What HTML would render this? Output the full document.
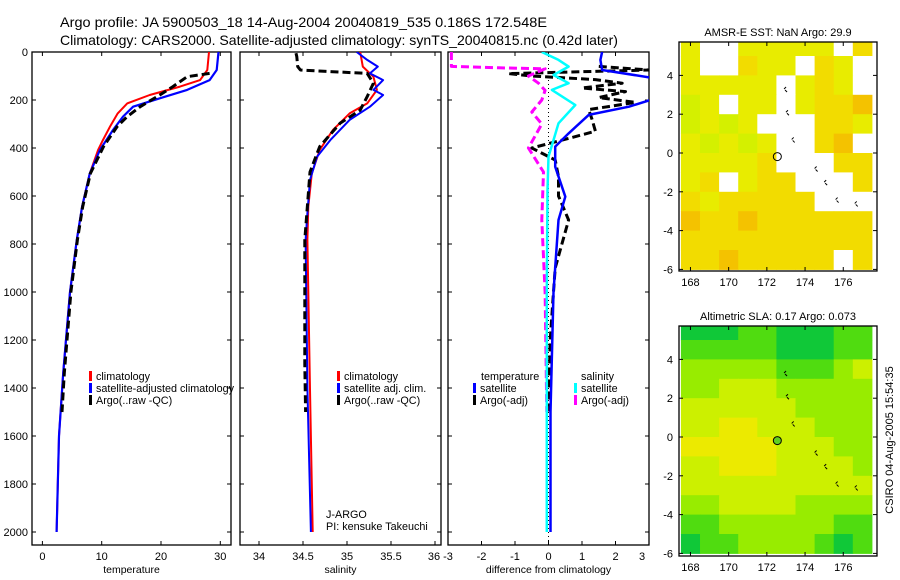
<!DOCTYPE html>
<html><head><meta charset="utf-8">
<style>
html,body{margin:0;padding:0;background:#fff;}
svg{display:block;font-family:"Liberation Sans",Arial,sans-serif;}
</style></head>
<body>
<svg id="c" width="900" height="580" viewBox="0 0 900 580" xmlns="http://www.w3.org/2000/svg">
<text x="60" y="27" font-size="14" textLength="487" lengthAdjust="spacingAndGlyphs">Argo profile: JA 5900503_18 14-Aug-2004 20040819_535 0.186S 172.548E</text>
<text x="60" y="45" font-size="14" textLength="558" lengthAdjust="spacingAndGlyphs">Climatology: CARS2000. Satellite-adjusted climatology: synTS_20040815.nc (0.42d later)</text>
<g id="g"></g>
</svg>
<script>
// ---- data ----
const tempClimDepth=[0,75,117,144,179,214,256,311,367,408,506,644,783,1000,1338,1600,2000];
const tempClim=[28.1,27.8,26.6,23.2,18.1,14.3,12.7,11.4,10.2,9.4,8.0,6.7,5.8,4.65,3.5,2.8,2.4];
const tempSatDepth=[0,75,117,158,193,228,269,325,408,506,644,783,1000,1338,1600,2000];
const tempSat=[29.7,29.4,28.2,24.4,19.8,15.3,13.6,11.9,9.7,8.0,6.7,5.8,4.65,3.5,2.8,2.4];
const tempArgoDepth=[89,103,144,179,228,269,311,394,506,644,783,1000,1338,1500];
const tempArgo=[28.2,24.4,22.0,19.8,16.5,14.3,12.6,10.3,8.1,6.8,5.9,4.8,3.7,3.3];
const salClimDepth=[0,61,103,158,214,256,325,408,506,644,783,1408,2000];
const salClim=[35.15,35.18,35.3,35.34,35.23,35.03,34.84,34.69,34.6,34.56,34.55,34.58,34.61];
const salSatDepth=[0,33,61,89,117,158,179,228,283,367,436,533,672,783,1400,2000];
const salSat=[35.11,35.23,35.35,35.26,35.41,35.3,35.41,35.26,35.03,34.81,34.66,34.58,34.55,34.53,34.55,34.59];
const salArgoDepth=[5,19,61,75,82,89,130,186,242,297,394,500,783,1300,1500];
const salArgo=[34.42,34.43,34.44,34.47,34.84,35.23,35.3,35.23,35.15,34.92,34.69,34.58,34.52,34.52,34.53];
const dSalSatDepth=[0,33,61,96,130,158,221,297,367,436,575,1000,1500,2000];
const dSalSat=[-0.2,0.3,0.6,0.15,0.6,0.1,0.8,0.3,0.15,0.0,-0.03,-0.05,-0.05,-0.05];
const dTempSatDepth=[0,33,75,110,193,228,262,339,394,478,603,700,1000,1500,2000];
const dTempSat=[1.6,1.55,1.6,3.2,3.2,2.4,1.2,0.6,0.2,0.2,0.5,0.3,0.15,0.06,0.06];
const dTempArgoDepth=[60,75,90,100,115,130,150,165,190,210,240,280,330,360,400,450,520,600,700,800,900,1000,1200,1500];
const dTempArgo=[1.5,3.0,-1.2,-0.5,1.4,2.2,1.0,2.3,1.5,2.6,1.2,1.3,1.4,0.6,-0.5,0.2,0.3,0.3,0.6,0.4,0.2,0.15,0.05,0.0];
const dSalArgoDepth=[0,60,66,70,100,130,160,200,250,300,400,500,700,1000,1500];
const dSalArgo=[-2.9,-2.9,-1.5,-0.1,-0.6,-0.3,-0.1,-0.2,-0.5,-0.2,-0.6,-0.15,-0.2,-0.1,-0.05];
const depthTicks=[0,200,400,600,800,1000,1200,1400,1600,1800,2000];
const tempTicks=[0,10,20,30];
const salTicks=[34,34.5,35,35.5,36];
const diffTicks=[-3,-2,-1,0,1,2,3];
const mapLons=[168,169,170,171,172,173,174,175,176,177];
const mapLats=[5.5,4.5,3.5,2.5,1.5,0.5,-0.5,-1.5,-2.5,-3.5,-4.5,-5.5];
const sstGrid=[
[2,0,0,2,2,2,2,2,0,3],[2,0,0,3,2,2,0,3,2,0],[2,2,2,2,2,0,2,3,2,0],[1,2,0,2,2,0,2,3,3,4],
[1,2,1,2,0,0,0,3,3,2],[2,1,2,1,2,0,0,3,4,0],[2,2,2,2,3,0,0,0,3,3],[2,3,0,2,3,3,0,0,0,3],
[3,2,3,3,3,3,3,0,0,0],[4,3,3,4,3,3,3,3,3,3],[3,3,3,3,3,3,3,3,3,3],[3,3,4,3,3,3,3,3,0,3]];
const slaGrid=[
[1,1,1,2,2,1,1,1,2,2],[2,2,2,2,2,1,1,1,2,2],[3,3,3,3,3,2,2,2,3,4],[3,3,4,4,4,3,3,3,3,3],
[4,4,4,4,4,4,3,3,3,3],[4,4,5,5,4,4,4,3,3,3],[5,5,5,5,5,4,4,4,3,3],[4,4,5,5,5,4,4,4,4,3],
[4,4,4,4,4,4,4,4,4,4],[3,3,4,4,4,4,3,3,3,3],[2,2,3,3,3,3,3,3,2,2],[1,2,2,3,3,3,3,2,1,2]];
const mapLonTicks=[168,170,172,174,176];
const mapLatTicks=[4,2,0,-2,-4,-6];
const floatLon=172.548, floatLat=-0.186;

// ---- drawing ----
const NS="http://www.w3.org/2000/svg";
const G=document.getElementById('g');
function el(t,a,p){const e=document.createElementNS(NS,t);for(const k in a)e.setAttribute(k,a[k]);(p||G).appendChild(e);return e;}
const yD=d=>52+d*0.24;
const PB=545;
const panels=[
 {x0:32,x1:231,sx:v=>42.4+v*5.93,ticks:tempTicks,label:'temperature',name:'temperature-panel'},
 {x0:240,x1:441,sx:v=>259+(v-34)*88,ticks:salTicks,label:'salinity',name:'salinity-panel'},
 {x0:448,x1:649,sx:v=>548.5+v*33.5,ticks:diffTicks,label:'difference from climatology',name:'difference-panel'}];
const defs=el('defs',{});
panels.forEach((p,i)=>{
 const cp=el('clipPath',{id:'cp'+i},defs);el('rect',{x:p.x0,y:52,width:p.x1-p.x0,height:PB-52},cp);
 const r=el('rect',{x:p.x0,y:52,width:p.x1-p.x0,height:PB-52,fill:'none',stroke:'#000','stroke-width':1.3});
 
 
 depthTicks.forEach(d=>{
  el('line',{x1:p.x0,x2:p.x0+4,y1:yD(d),y2:yD(d),stroke:'#000'});
  el('line',{x1:p.x1-4,x2:p.x1,y1:yD(d),y2:yD(d),stroke:'#000'});
 });
 p.ticks.forEach((v,j)=>{
  const x=p.sx(v);
  if(x>=p.x0-1&&x<=p.x1+1){el('line',{x1:x,x2:x,y1:PB,y2:PB-4,stroke:'#000'});el('line',{x1:x,x2:x,y1:52,y2:56,stroke:'#000'});}
  let lx=Math.min(x,p.x1-7);
  const t=el('text',{x:lx,y:560,'font-size':11,'text-anchor':'middle'});t.textContent=v;
  
  
 });
 const xt=el('text',{x:(p.x0+p.x1)/2,y:573,'font-size':10.5,'text-anchor':'middle'});xt.textContent=p.label;
 
 
});
depthTicks.forEach(d=>{const t=el('text',{x:28,y:yD(d)+4,'font-size':11,'text-anchor':'end'});t.textContent=d;
 
 });
el('line',{x1:548.5,x2:548.5,y1:52,y2:PB,stroke:'#000','stroke-dasharray':'1 3'});
function line(pi,ds,vs,col,w,dash,name){
 const p=panels[pi];const pts=ds.map((d,i)=>p.sx(vs[i]).toFixed(1)+','+yD(d).toFixed(1)).join(' ');
 const a={points:pts,fill:'none',stroke:col,'stroke-width':w,'clip-path':'url(#cp'+pi+')','stroke-linejoin':'round'};
 if(dash)a['stroke-dasharray']=dash;
 const e=el('polyline',a);
 
 
}
line(0,tempClimDepth,tempClim,'#f00',2,null,'temperature-climatology-line');
line(0,tempSatDepth,tempSat,'#00f',2.2,null,'temperature-satellite-line');
line(0,tempArgoDepth,tempArgo,'#000',3,'8 4','temperature-argo-line');
line(1,salClimDepth,salClim,'#f00',2,null,'salinity-climatology-line');
line(1,salSatDepth,salSat,'#00f',2,null,'salinity-satellite-line');
line(1,salArgoDepth,salArgo,'#000',3,'8 4','salinity-argo-line');
line(2,dTempArgoDepth,dTempArgo,'#000',3,'8 4','temp-argo-diff-line');
line(2,dSalArgoDepth,dSalArgo,'#f0f',3,'8 4','sal-argo-diff-line');
line(2,dTempSatDepth,dTempSat,'#00f',2.5,null,'temp-satellite-diff-line');
line(2,dSalSatDepth,dSalSat,'#0ff',2.5,null,'sal-satellite-diff-line');
function leg(x,y,col,txt,name){
 if(col){const b=el('rect',{x:x,y:y-9,width:3,height:10,fill:col});}
 const t=el('text',{x:x+7,y:y,'font-size':10.8});t.textContent=txt;
 
 
}
leg(89,380,'#f00','climatology','legend-climatology');
leg(89,392,'#00f','satellite-adjusted climatology','legend-satellite-adjusted');
leg(89,404,'#000','Argo(..raw -QC)','legend-argo');
leg(337,380,'#f00','climatology','legend-sal-climatology');
leg(337,392,'#00f','satellite adj. clim.','legend-sal-satellite');
leg(337,404,'#000','Argo(..raw -QC)','legend-sal-argo');
leg(474,380,null,'temperature','legend-temperature-heading');
leg(473,392,'#00f','satellite','legend-temp-satellite');
leg(473,404,'#000','Argo(-adj)','legend-temp-argo');
leg(574,380,null,'salinity','legend-salinity-heading');
leg(574,392,'#0ff','satellite','legend-sal-satellite-diff');
leg(574,404,'#f0f','Argo(-adj)','legend-sal-argo-diff');
leg(319,518,null,'J-ARGO','ownership-label');
leg(319,530,null,'PI: kensuke Takeuchi','pi-label');

// maps
const sstPal=['#fff','#d4f000','#e8ec00','#f2dc00','#f4c200'];
const slaPal=['#fff','#10c838','#50dc10','#98ec00','#ccf000','#ecea00'];
function map(yTop,yBot,y0,grid,pal,title,name,fillCircle){
 const x0=679,x1=877,sx=l=>679+(l-167.4)*19.1,sy=la=>y0-la*19.4;
 const cp=el('clipPath',{id:'cp'+name},defs);el('rect',{x:x0,y:yTop,width:x1-x0,height:yBot-yTop},cp);
 const g=el('g',{'clip-path':'url(#cp'+name+')'});
 grid.forEach((row,i)=>row.forEach((v,j)=>{
  const c=el('rect',{x:sx(mapLons[j]-0.5),y:sy(mapLats[i]+0.5),width:19.6,height:19.9,fill:pal[v]},g);
  
  
 }));
 [[172.9,3.3],[173,2.1],[173.3,0.7],[174.5,-0.8],[175,-1.5],[175.6,-2.4],[176.6,-2.6]].forEach(q=>{
  el('path',{d:`M${sx(q[0])},${sy(q[1])} l2,-2 m-1,3 l2,2`,fill:'none',stroke:'#000','stroke-width':1},g);});
 const fr=el('rect',{x:x0,y:yTop,width:x1-x0,height:yBot-yTop,fill:'none',stroke:'#000','stroke-width':1.3});
 
 
 const ci=el('circle',{cx:sx(floatLon),cy:sy(floatLat),r:4,fill:fillCircle||'none',stroke:'#000','stroke-width':1});
 
 
 mapLonTicks.forEach(l=>{const x=sx(l);el('line',{x1:x,x2:x,y1:yBot,y2:yBot-4,stroke:'#000'});el('line',{x1:x,x2:x,y1:yTop,y2:yTop+4,stroke:'#000'});
  const t=el('text',{x:x,y:yBot+15,'font-size':11,'text-anchor':'middle'});t.textContent=l;
  
  });
 mapLatTicks.forEach(la=>{const y=sy(la);el('line',{x1:x0,x2:x0+4,y1:y,y2:y,stroke:'#000'});el('line',{x1:x1-4,x2:x1,y1:y,y2:y,stroke:'#000'});
  const t=el('text',{x:673,y:y+4,'font-size':11,'text-anchor':'end'});t.textContent=la;
  
  });
 const tt=el('text',{x:778,y:yTop-6,'font-size':11,'text-anchor':'middle'});tt.textContent=title;
 
 
}
map(42,271,153,sstGrid,sstPal,'AMSR-E SST: NaN Argo: 29.9','sst-map');
map(326,556,437,slaGrid,slaPal,'Altimetric SLA: 0.17 Argo: 0.073','sla-map','#60d020');
const st=el('text',{x:0,y:0,'font-size':11,'text-anchor':'middle',transform:'translate(893,440) rotate(-90)'});
st.textContent='CSIRO 04-Aug-2005 15:54:35';


</script>
</body></html>
